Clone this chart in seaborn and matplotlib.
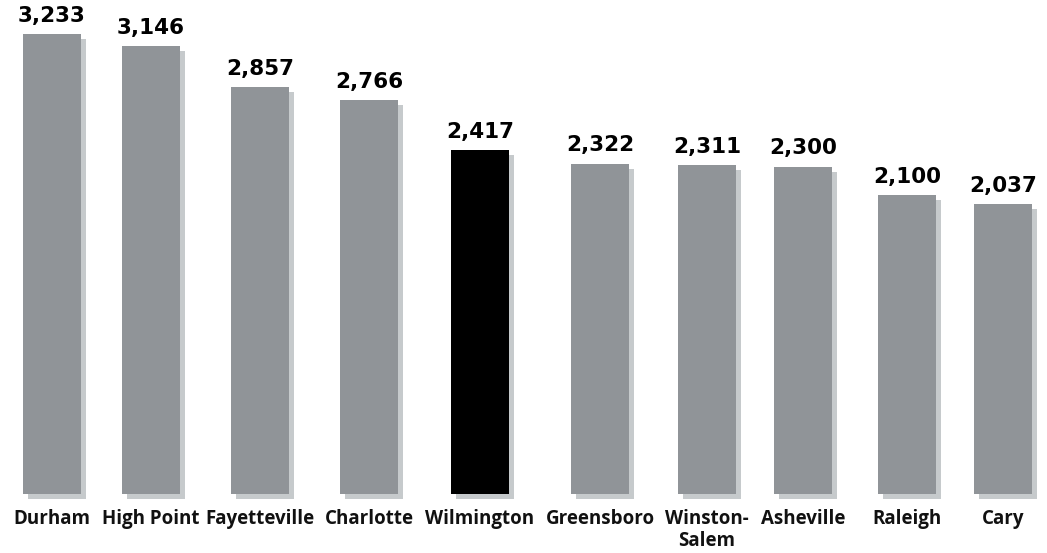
import numpy as np
import pandas as pd
import matplotlib
matplotlib.use("Agg")
import matplotlib.pyplot as plt
import matplotlib.transforms as mtransforms
import seaborn as sns

# City values
cities = ["Durham", "High Point", "Fayetteville", "Charlotte", "Wilmington",
          "Greensboro", "Winston-Salem", "Asheville", "Raleigh", "Cary"]
tick_labels = ["Durham", "High Point", "Fayetteville", "Charlotte", "Wilmington",
               "Greensboro", "Winston-\nSalem", "Asheville", "Raleigh", "Cary"]
values = [3233, 3146, 2857, 2766, 2417, 2322, 2311, 2300, 2100, 2037]
highlight = "Wilmington"

# horizontal slot of each city (spaced to leave room for the longer names)
slots = [0.0, 0.937, 1.968, 3.0, 4.05, 5.186, 6.199, 7.107, 8.091, 9.0]

BAR = "#909498"
HIGHLIGHT = "#000000"
SHADOW = "#c6cacc"

sns.set_theme(style="white")
plt.rcParams["font.family"] = ["Open Sans", "DejaVu Sans"]

df = pd.DataFrame({"city": cities, "value": values, "slot": slots})
palette = {c: (HIGHLIGHT if c == highlight else BAR) for c in cities}

W, H, DPI = 1047, 553, 100
fig = plt.figure(figsize=(W / DPI, H / DPI), dpi=DPI)
base_px = 494
ax = fig.add_axes([0, (H - base_px) / H, 1, base_px / H])

step = 105.67                       # pixels per slot unit
min_gap = np.min(np.diff(slots))
bar_w = (58 / step) / min_gap       # relative width for native_scale

# drop shadows: same bars, shifted right and down
sns.barplot(data=df, x="slot", y="value", color=SHADOW, width=bar_w,
            native_scale=True, saturation=1, errorbar=None, linewidth=0, ax=ax)
off = mtransforms.ScaledTranslation(5 / DPI, -5 / DPI, fig.dpi_scale_trans)
for p in list(ax.patches):
    p.set_transform(ax.transData + off)
    p.set_clip_on(False)
n_shadow = len(ax.containers)

# main bars
sns.barplot(data=df, x="slot", y="value", hue="city", palette=palette,
            width=bar_w, native_scale=True, dodge=False, saturation=1,
            errorbar=None, linewidth=0, legend=False, ax=ax)

for cont in ax.containers[n_shadow:]:
    ax.bar_label(cont, labels=[f"{v:,.0f}" for v in cont.datavalues],
                 padding=6, fontsize=15.5, fontweight="bold", color="#000000",
                 family="DejaVu Sans")

ax.set_xlim(-52 / step, (W - 52) / step)
ax.set_ylim(0, base_px / 0.1423)
ax.set_xticks(slots)
ax.set_xticklabels(tick_labels, fontsize=13.5, fontweight="bold",
                   color="#111111", linespacing=1.1)
ax.tick_params(axis="x", length=0, pad=11)
ax.set_yticks([])
ax.set_xlabel("")
ax.set_ylabel("")
for s in ax.spines.values():
    s.set_visible(False)
ax.patch.set_alpha(0)

fig.savefig("out.png", dpi=DPI)
